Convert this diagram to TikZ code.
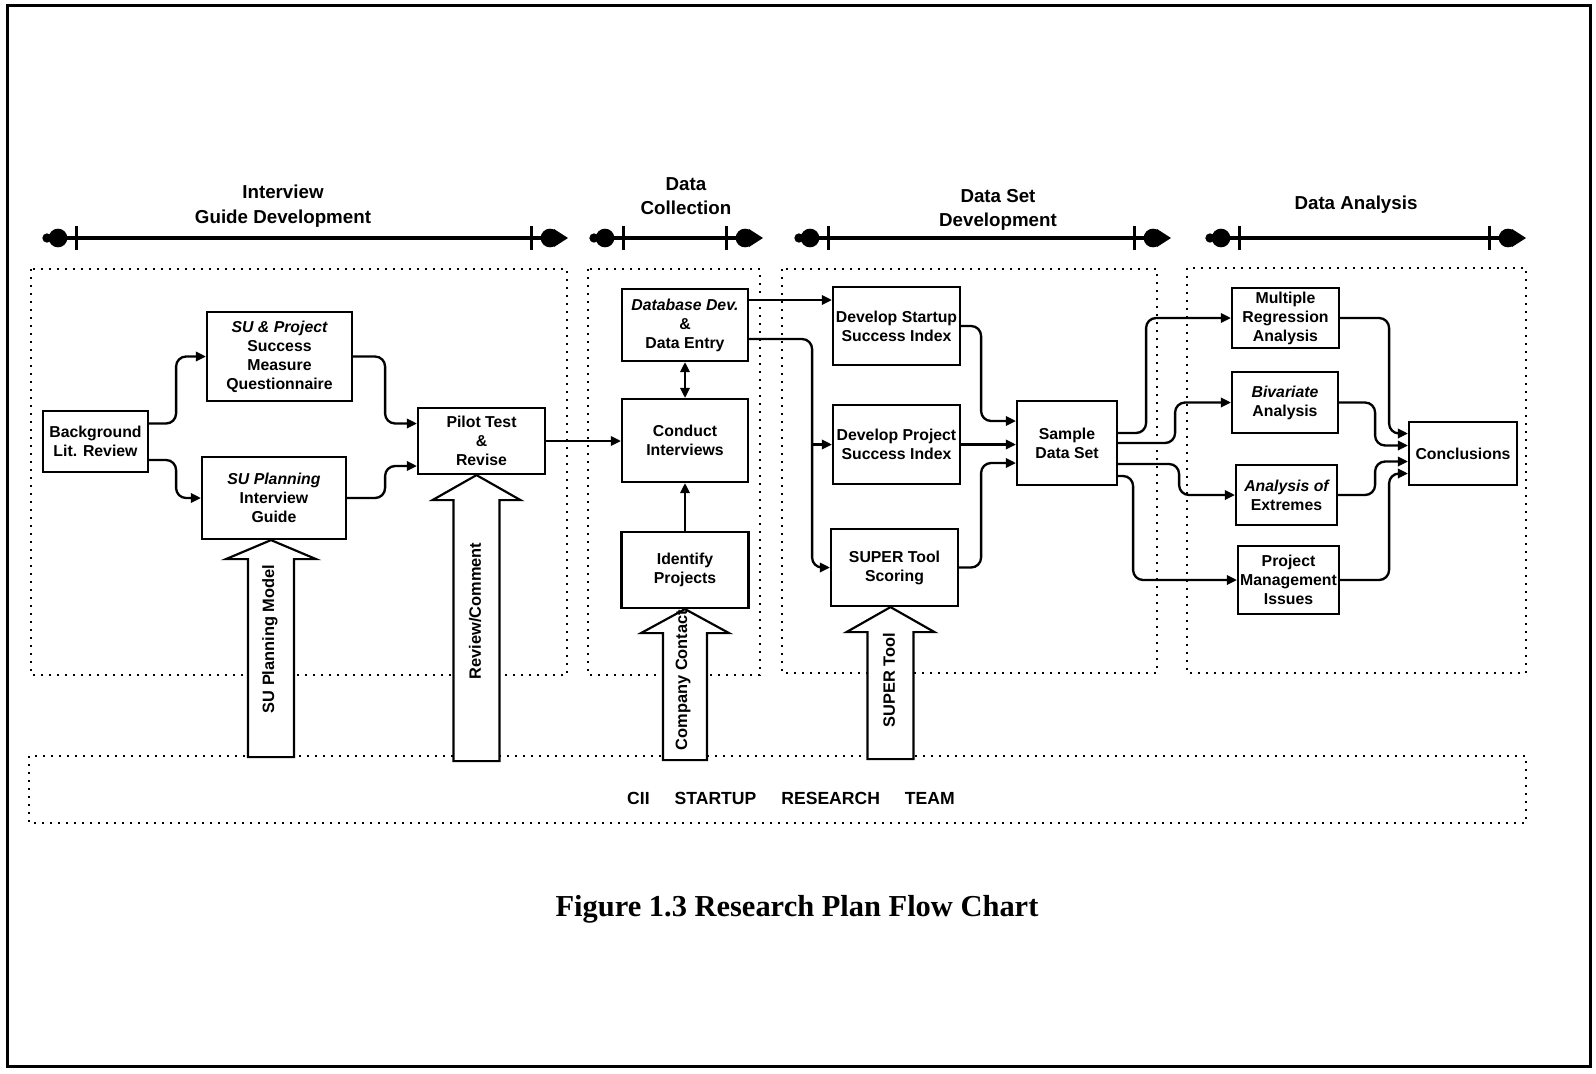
\documentclass[tikz,border=0pt]{standalone}
\usepackage{fontspec}
\setmainfont{Liberation Serif}
\setsansfont{Liberation Sans}
\usepackage{tikz}
\usetikzlibrary{arrows.meta,positioning,calc}
\newcommand{\BX}{\sffamily\bfseries\fontsize{13.5}{16.2}\selectfont}
\newcommand{\HD}{\sffamily\bfseries\fontsize{16}{21}\selectfont}
\newcommand{\VL}{\sffamily\bfseries\fontsize{14}{16}\selectfont}

\begin{document}
\begin{tikzpicture}[x=0.3mm,y=-0.3mm,
  >={Triangle[length=3mm,width=2.8mm]},
  box/.style={draw,line width=0.65mm,align=center,inner sep=0pt,font=\BX},
  flow/.style={line width=0.7mm,rounded corners=3mm,->},
  zone/.style={line width=0.65mm,dash pattern=on 0.65mm off 1.75mm},
  bigarrow/.style={draw,line width=0.65mm,fill=white},
  vlabel/.style={rotate=90,font=\VL},
  head/.style={align=center,font=\HD}]
  \useasboundingbox (0,0) rectangle (1596,1073);
  \draw[line width=0.9mm] (7,5) rectangle (1590,1066);

  % phase headers and time bars
  \node[head] (h1) at (283,206) {Interview\\Guide Development};
  \node[head] (h2) at (686,196) {Data\\Collection};
  \node[head] (h3) at (998,210) {Data Set\\Development};
  \node[head] (h4) at (1356,205) {Data Analysis};
  \foreach \a/\b in {58/550,605/745,810/1153,1221/1508}{
    \draw[line width=1mm] (\a,238) -- (\b,238);
    \draw[line width=0.9mm] (\a+18,226) -- (\a+18,250);
    \draw[line width=0.9mm] (\b-19,226) -- (\b-19,250);
    \fill (\a,238) circle[radius=2.8mm];
    \fill (\a-11,238) circle[radius=1.4mm];
    \fill (\b,238) circle[radius=2.8mm];
    \fill (\b+4,229) -- (\b+18,238) -- (\b+4,247) -- cycle;
  }

  % zones
  \draw[zone] (31,269) rectangle (567,675);
  \draw[zone] (588,269) rectangle (760,675);
  \draw[zone] (782,269) rectangle (1157,673);
  \draw[zone] (1187,268) rectangle (1526,673);
  \draw[zone] (29,756) rectangle (1526,823);
  \node[font=\sffamily\bfseries\fontsize{15}{18}\selectfont] (team) at (791,798)
    {CII\hspace{7.5mm}STARTUP\hspace{7.5mm}RESEARCH\hspace{7.5mm}TEAM};

  % interview guide development
  \node[box,minimum width=31.5mm,minimum height=18.3mm] (bg) at (95.5,441.5) {Background\\Lit. Review};
  \node[box,minimum width=43.5mm,minimum height=26.7mm] (spq) at (279.5,356.5) {\itshape SU \& Project\\Success\\Measure\\Questionnaire};
  \node[box,minimum width=43.2mm,minimum height=24.6mm] (spg) at (274,498) {\itshape SU Planning\\Interview\\Guide};
  \node[box,minimum width=38.1mm,minimum height=19.8mm] (pilot) at (481.5,441) {Pilot Test\\\&\\Revise};

  % data collection
  \node[box,minimum width=37.8mm,minimum height=21.6mm] (db) at (685,325) {\itshape Database Dev.\\\&\\Data Entry};
  \node[box,minimum width=37.8mm,minimum height=24.9mm] (conduct) at (685,440.5) {Conduct\\Interviews};
  \node[box,minimum width=38.1mm,minimum height=22.8mm] (identify) at (685,570) {Identify\\Projects};

  % data set development
  \node[box,minimum width=38.1mm,minimum height=23.4mm] (dssi) at (896.5,326) {Develop Startup\\Success Index};
  \node[box,minimum width=38.1mm,minimum height=23.7mm] (dpsi) at (896.5,444.5) {Develop Project\\Success Index};
  \node[box,minimum width=38.1mm,minimum height=23.1mm] (super) at (894.5,567.5) {SUPER Tool\\Scoring};
  \node[box,minimum width=30mm,minimum height=25.2mm] (sample) at (1067,443) {Sample\\Data Set};

  % data analysis
  \node[box,minimum width=32.1mm,minimum height=18mm] (mra) at (1285.5,318) {Multiple\\Regression\\Analysis};
  \node[box,minimum width=31.8mm,minimum height=18.3mm] (biv) at (1285,402.5) {\itshape Bivariate\\Analysis};
  \node[box,minimum width=30.3mm,minimum height=18mm] (aoe) at (1286.5,495) {\itshape Analysis of\\Extremes};
  \node[box,minimum width=30.3mm,minimum height=20.4mm] (pmi) at (1288.5,580) {Project\\Management\\Issues};
  \node[box,minimum width=32.4mm,minimum height=18.9mm] (concl) at (1463,453.5) {Conclusions};

  % connectors
  \draw[flow] ($(bg.east)+(0,-18)$) -- ++(27,0) |- (spq.west);
  \draw[flow] ($(bg.east)+(0,18.5)$) -- ++(27,0) |- (spg.west);
  \draw[flow] (spq.east) -- ++(32,0) |- ($(pilot.west)+(0,-17.5)$);
  \draw[flow] (spg.east) -- ++(38,0) |- ($(pilot.west)+(0,25)$);
  \draw[flow] (pilot.east) -- (pilot.east -| conduct.west);
  \draw[flow,<->] (db.south) -- (conduct.north);
  \draw[flow] (identify.north) -- (conduct.south);
  \draw[flow] ($(db.east)+(0,-25)$) coordinate (dbtop) -- (dbtop -| dssi.west);
  \draw[flow] ($(db.east)+(0,14)$) -- ++(63,0) coordinate (split) |- (super.west);
  \draw[flow] (split |- dpsi.west) -- (dpsi.west);
  \draw[flow] (dssi.east) -- ++(20,0) |- ($(sample.west)+(0,-22)$);
  \draw[flow] (dpsi.east) -- (dpsi.east -| sample.west);
  \draw[flow] (super.east) -- ++(22,0) |- ($(sample.west)+(0,20)$);
  \draw[flow] ($(sample.east)+(0,-10)$) -- ++(28,0) |- (mra.west);
  \draw[flow] (sample.east) -- ++(57,0) |- (biv.west);
  \draw[flow] ($(sample.east)+(0,21)$) -- ++(61,0) |- (aoe.west);
  \draw[flow] ($(sample.east)+(0,33)$) -- ++(15,0) |- (pmi.west);
  \draw[flow] (mra.east) -- ++(49,0) |- ($(concl.west)+(0,-20)$);
  \draw[flow] (biv.east) -- ++(36,0) |- ($(concl.west)+(0,-8)$);
  \draw[flow] (aoe.east) -- ++(37,0) |- ($(concl.west)+(0,8)$);
  \draw[flow] (pmi.east) -- ++(49,0) |- ($(concl.west)+(0,20)$);

  % inputs from the team
  \draw[bigarrow] ($(spg.south)+(-3,0)$) -- ++(45,19) -- ++(-22,0) -- ++(0,198) -- ++(-46,0) -- ++(0,-198) -- ++(-22,0) -- cycle;
  \draw[bigarrow] ($(pilot.south)+(-5,0)$) -- ++(44,25) -- ++(-21,0) -- ++(0,261) -- ++(-46,0) -- ++(0,-261) -- ++(-21,0) -- cycle;
  \draw[bigarrow] (identify.south) -- ++(44,24) -- ++(-22,0) -- ++(0,127) -- ++(-44,0) -- ++(0,-127) -- ++(-22,0) -- cycle;
  \draw[bigarrow] ($(super.south)+(-4,0)$) -- ++(44,25) -- ++(-21,0) -- ++(0,127) -- ++(-46,0) -- ++(0,-127) -- ++(-21,0) -- cycle;
  \node[vlabel] (l1) at (270,639) {SU Planning Model};
  \node[vlabel] (l2) at (475,611) {Review/Comment};
  \node[vlabel] (l3) at (683,680) {Company Contact};
  \node[vlabel] (l4) at (889,680) {SUPER Tool};

  \node[font=\bfseries\fontsize{26}{30}\selectfont] (caption) at (797,909) {Figure 1.3 Research Plan Flow Chart};
\end{tikzpicture}
\end{document}
